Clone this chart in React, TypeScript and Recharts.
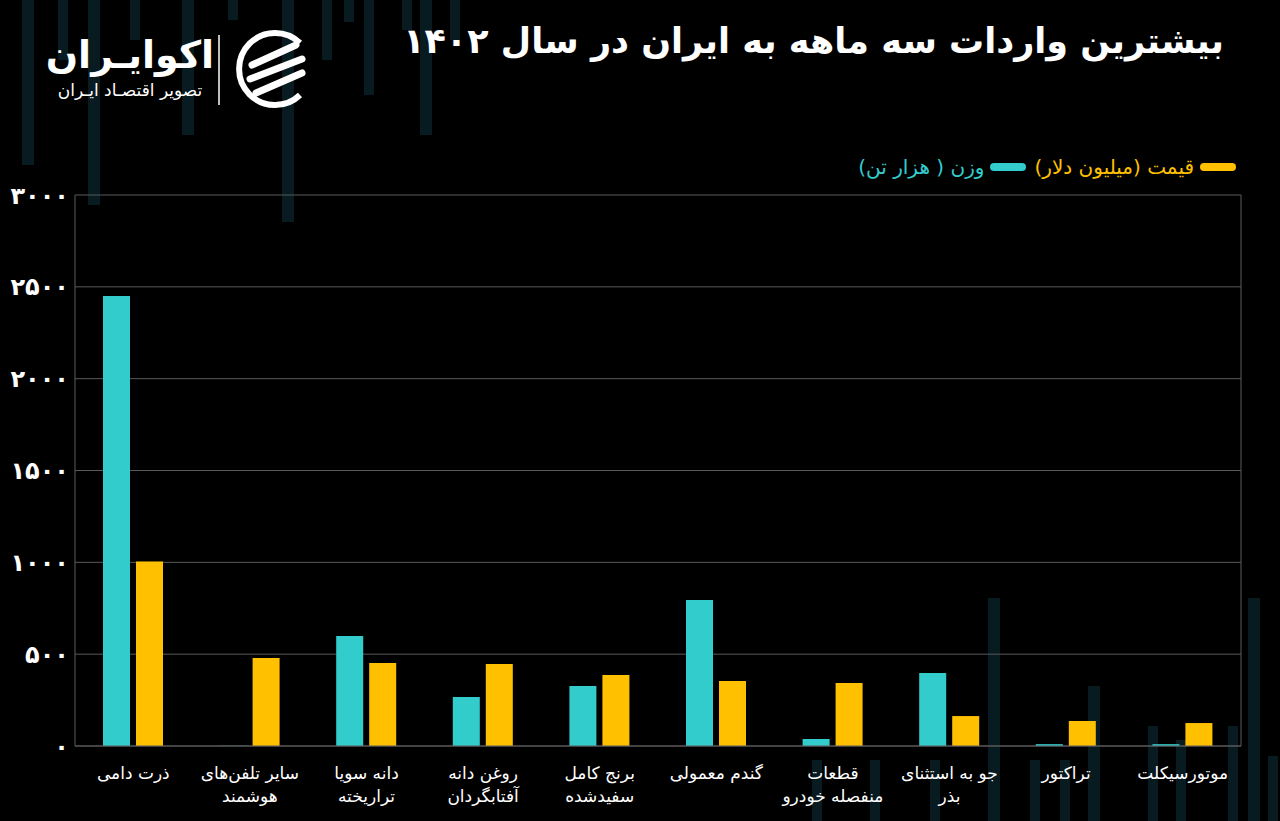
import React from 'react';
import { BarChart, Bar, XAxis, YAxis, CartesianGrid } from 'recharts';

const categories = [
  'ذرت دامی',
  'سایر تلفن‌های\nهوشمند',
  'دانه سویا\nتراریخته',
  'روغن دانه\nآفتابگردان',
  'برنج کامل\nسفیدشده',
  'گندم معمولی',
  'قطعات\nمنفصله خودرو',
  'جو به استثنای\nبذر',
  'تراکتور',
  'موتورسیکلت',
];
const weightValues = [2450, 1, 599, 267, 327, 795, 38, 397, 10, 10];
const priceValues = [1005, 479, 452, 446, 387, 354, 343, 163, 136, 125];
const yTicks = [0, 500, 1000, 1500, 2000, 2500, 3000];
const weightLabel = 'وزن ( هزار تن)';
const priceLabel = 'قیمت (میلیون دلار)';
const titleText = 'بیشترین واردات سه ماهه به ایران در سال ۱۴۰۲';

const data = categories.map((c, i) => ({ name: c, weight: weightValues[i], price: priceValues[i] }));

const CYAN = '#33CCCC';
const YELLOW = '#FFC000';
const FONT = '"DejaVu Sans", sans-serif';

const toFa = (n: number | string) => String(n).replace(/\d/g, (d) => '۰۱۲۳۴۵۶۷۸۹'[Number(d)]);

// decorative faint background columns [x, top, bottom, width]
const deco: [number, number, number, number][] = [
  [22, 0, 165, 12], [58, 0, 60, 10], [88, 0, 205, 12], [130, 0, 40, 10], [182, 0, 135, 12],
  [228, 0, 20, 10], [282, 0, 222, 12], [322, 0, 60, 10], [344, 0, 22, 10], [364, 0, 95, 10],
  [402, 0, 30, 10], [420, 0, 135, 12], [450, 0, 40, 10],
  [988, 598, 821, 12], [1088, 686, 821, 12], [1148, 726, 821, 10], [1176, 740, 821, 10],
  [1228, 726, 821, 10], [1248, 598, 821, 12], [1268, 756, 821, 10], [1030, 760, 821, 10], [1060, 760, 821, 10],
  [812, 760, 821, 10], [870, 760, 821, 10], [930, 760, 821, 10],
];

const XTick = (props: any) => {
  const { x, y, payload } = props;
  const lines = String(payload.value).split('\n');
  return (
    <text x={x} y={y} fill="#ffffff" fontSize={17} fontFamily={FONT} textAnchor="middle" direction="rtl">
      {lines.map((l, i) => (
        <tspan key={i} x={x} dy={i === 0 ? 25 : 23}>{l}</tspan>
      ))}
    </text>
  );
};

export default function App() {
  return (
    <div style={{ position: 'fixed', left: 0, top: 0, width: 1280, height: 821, background: '#000000', overflow: 'hidden' }}>
      <svg width={1280} height={821} style={{ position: 'absolute', left: 0, top: 0 }}>
        {deco.map(([x, t, b, w], i) => (
          <rect key={i} x={x} y={t} width={w} height={b - t} fill="#081b20" />
        ))}
      </svg>
      <div style={{ position: 'absolute', right: 56, top: 21, color: '#fff', fontFamily: FONT, fontWeight: 'bold', fontSize: 35, direction: 'rtl', whiteSpace: 'nowrap' }}>
        {titleText}
      </div>
      {/* logo */}
      <div style={{ position: 'absolute', left: 46, top: 32, width: 168, textAlign: 'center', color: '#fff', fontFamily: FONT, direction: 'rtl' }}>
        <div style={{ fontSize: 38, fontWeight: 'bold', lineHeight: '46px' }}>اکوایـران</div>
        <div style={{ fontSize: 17, lineHeight: '24px' }}>تصویر اقتصـاد ایـران</div>
      </div>
      <svg width={100} height={90} style={{ position: 'absolute', left: 212, top: 25 }}>
        <line x1={7} y1={10} x2={7} y2={80} stroke="#ffffff" strokeWidth={1.5} />
        <path d="M 88 18 A 36 36 0 1 0 88 70" fill="none" stroke="#fff" strokeWidth={6} />
        <path d="M 40 40 L 84 20" stroke="#fff" strokeWidth={7} strokeLinecap="round" />
        <path d="M 38 54 L 90 34" stroke="#fff" strokeWidth={7} strokeLinecap="round" />
        <path d="M 44 68 L 90 48" stroke="#fff" strokeWidth={7} strokeLinecap="round" />
      </svg>
      {/* legend */}
      <div style={{ position: 'absolute', right: 44, top: 155, display: 'flex', flexDirection: 'row', alignItems: 'center', fontFamily: FONT, fontSize: 20, direction: 'rtl', whiteSpace: 'nowrap' }}>
        <span style={{ display: 'inline-block', width: 36, height: 8, borderRadius: 4, background: YELLOW, marginLeft: 6 }} />
        <span style={{ color: YELLOW, marginLeft: 8 }}>{priceLabel}</span>
        <span style={{ display: 'inline-block', width: 36, height: 8, borderRadius: 4, background: CYAN, marginLeft: 6 }} />
        <span style={{ color: CYAN }}>{weightLabel}</span>
      </div>
      <div style={{ position: 'absolute', left: 0, top: 0 }}>
        <BarChart
          width={1280}
          height={821}
          data={data}
          margin={{ top: 195, right: 39, bottom: 45, left: 0 }}
          barCategoryGap="24%"
          barGap={6}
        >
          <CartesianGrid
            stroke="#5a5a5a"
            strokeWidth={1}
            verticalCoordinatesGenerator={(p: any) => [p.offset.left, p.offset.left + p.offset.width]}
          />
          <XAxis dataKey="name" height={30} tick={<XTick />} tickLine={false} axisLine={{ stroke: '#5a5a5a' }} interval={0} />
          <YAxis
            width={75}
            domain={[0, 3000]}
            ticks={yTicks}
            tickFormatter={(v: number) => toFa(v)}
            tick={{ fill: '#ffffff', fontSize: 24, fontWeight: 'bold', fontFamily: FONT }}
            tickLine={false}
            axisLine={false}
            tickMargin={0}
          />
          <Bar dataKey="weight" name={weightLabel} fill={CYAN} barSize={27} isAnimationActive={false} />
          <Bar dataKey="price" name={priceLabel} fill={YELLOW} barSize={27} isAnimationActive={false} />
        </BarChart>
      </div>
    </div>
  );
}
